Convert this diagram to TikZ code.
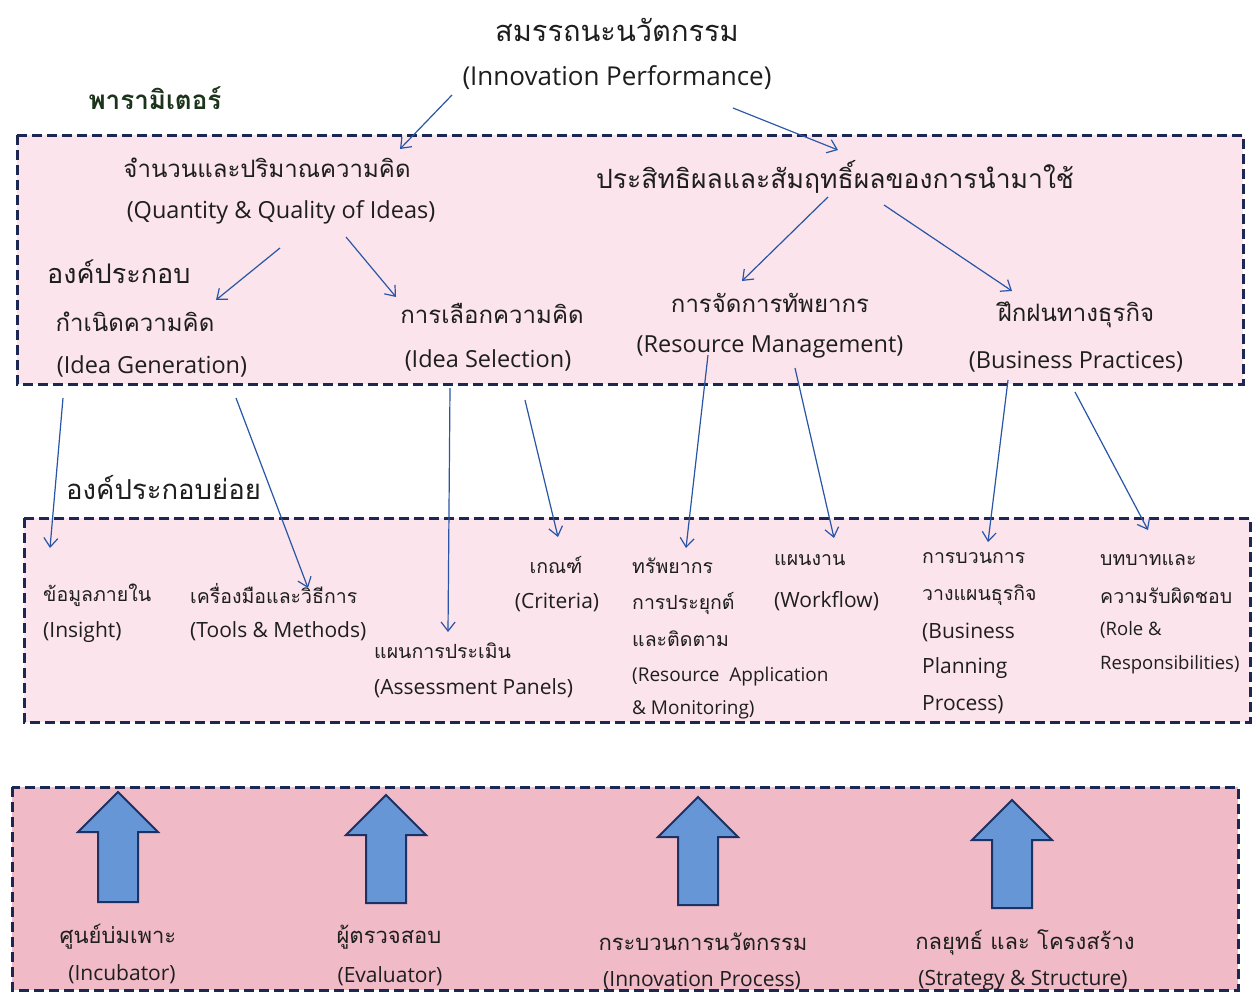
\documentclass[tikz,border=0pt]{standalone}
\usepackage{fontspec}
\setmainfont{Open Sans}
\newfontfamily\thaifont[Script=Thai]{Loma}
\usetikzlibrary{arrows.meta}
\definecolor{dashnavy}{RGB}{28,40,82}
\definecolor{lightpink}{RGB}{251,228,236}
\definecolor{deeppink}{RGB}{240,186,199}
\definecolor{linkblue}{RGB}{40,85,165}
\definecolor{blockfill}{RGB}{102,150,214}
\definecolor{blockedge}{RGB}{28,50,100}
\definecolor{headgreen}{RGB}{28,52,28}
\definecolor{ink}{RGB}{30,30,30}
\tikzset{
  panel/.style={draw=dashnavy, line width=3pt, dash pattern=on 10pt off 5pt},
  link/.style={draw=linkblue, line width=1.2pt, -{Straight Barb[length=9pt,width=14pt,line width=1.2pt]}},
  th/.style={inner sep=0pt, text=ink, font=\thaifont\fontsize{#1}{#1}\selectfont},
  en/.style={inner sep=0pt, text=ink, font=\fontsize{#1}{#1}\selectfont},
  uparrow/.style={fill=blockfill, draw=blockedge, line width=2pt, line join=miter}
}
\newcommand{\blockup}[3]{% centre x, tip y, bottom y
  \path[uparrow] (#1,#2) -- (#1+40,#2+40) -- (#1+20,#2+40) -- (#1+20,#3)
    -- (#1-20,#3) -- (#1-20,#2+40) -- (#1-40,#2+40) -- cycle;}
\begin{document}
\begin{tikzpicture}[x=1pt,y=-1pt]
\useasboundingbox[fill=white] (0,0) rectangle (1258,993);

% panels
\path[panel, fill=lightpink] (17,135) rectangle (1243,384);
\path[panel, fill=lightpink] (24,518) rectangle (1250,722);
\path[panel, fill=deeppink] (12,787) rectangle (1238,990);

% overall goal
\node[th=29] (t1) at (617,30) {สมรรถนะนวัตกรรม};
\node[en=26] (t2) at (617,78) {(Innovation Performance)};

% parameters
\node[th=26, text=headgreen, font=\thaifont\bfseries\fontsize{26}{26}\selectfont] (pl) at (155,98) {พารามิเตอร์};
\node[th=24] (q1) at (267,168) {จำนวนและปริมาณความคิด};
\node[en=23.5] (q2) at (281,212) {(Quantity \& Quality of Ideas)};
\node[th=26.5] (e1) at (835,177) {ประสิทธิผลและสัมฤทธิ์ผลของการนำมาใช้};

% components
\node[th=27, anchor=west] (comp) at (47,272) {องค์ประกอบ};
\node[th=24] (g1) at (135,322) {กำเนิดความคิด};
\node[en=23.5] (g2) at (152,366) {(Idea Generation)};
\node[th=24] (s1) at (492,313) {การเลือกความคิด};
\node[en=23.5] (s2) at (488,360) {(Idea Selection)};
\node[th=24] (r1) at (770,303) {การจัดการทัพยากร};
\node[en=23.5] (r2) at (770,347) {(Resource Management)};
\node[th=24] (b1) at (1076,315) {ฝึกฝนทางธุรกิจ};
\node[en=23.5] (b2) at (1076,362) {(Business Practices)};

% sub-components
\node[th=27.5, anchor=west] (sub) at (66,488) {องค์ประกอบย่อย};
\node[th=19.5, anchor=west] (i1) at (43,595) {ข้อมูลภายใน};
\node[en=21, anchor=west] (i2) at (43,632) {(Insight)};
\node[th=19.5, anchor=west] (tm1) at (190,594) {เครื่องมือและวิธีการ};
\node[en=21, anchor=west] (tm2) at (190,631) {(Tools \& Methods)};
\node[th=19.5, anchor=west] (ap1) at (374,651) {แผนการประเมิน};
\node[en=21, anchor=west] (ap2) at (374,688) {(Assessment Panels)};
\node[th=19.5] (cr1) at (556,565) {เกณฑ์};
\node[en=21] (cr2) at (557,602) {(Criteria)};
\node[th=19.5, anchor=west] (ra1) at (632,566) {ทรัพยากร};
\node[th=19.5, anchor=west] (ra2) at (632,603) {การประยุกต์};
\node[th=19.5, anchor=west] (ra3) at (632,639) {และติดตาม};
\node[en=19, anchor=west] (ra4) at (632,677) {(Resource\ \ Application};
\node[en=19, anchor=west] (ra5) at (632,710) {\& Monitoring)};
\node[th=19.5, anchor=west] (wf1) at (774,560) {แผนงาน};
\node[en=21, anchor=west] (wf2) at (774,601) {(Workflow)};
\node[th=19.5, anchor=west] (bp1) at (922,558) {การบวนการ};
\node[th=19.5, anchor=west] (bp2) at (922,595) {วางแผนธุรกิจ};
\node[en=21, anchor=west] (bp3) at (922,632) {(Business};
\node[en=21, anchor=west] (bp4) at (922,668) {Planning};
\node[en=21, anchor=west] (bp5) at (922,705) {Process)};
\node[th=19.5, anchor=west] (rr1) at (1100,560) {บทบาทและ};
\node[th=19.5, anchor=west] (rr2) at (1100,596) {ความรับผิดชอบ};
\node[en=18.5, anchor=west] (rr3) at (1100,630) {(Role \&};
\node[en=18.5, anchor=west] (rr4) at (1100,665) {Responsibilities)};

% enablers
\blockup{118}{792}{902}
\blockup{386}{795}{903}
\blockup{698}{797}{905}
\blockup{1012}{800}{908}
\node[th=22] (n1) at (118,937) {ศูนย์บ่มเพาะ};
\node[en=21] (n2) at (122,974) {(Incubator)};
\node[th=22] (v1) at (389,937) {ผู้ตรวจสอบ};
\node[en=21] (v2) at (390,976) {(Evaluator)};
\node[th=22] (p1) at (703,942) {กระบวนการนวัตกรรม};
\node[en=21] (p2) at (702,980) {(Innovation Process)};
\node[th=22] (k1) at (1025,942) {กลยุทธ์ และ โครงสร้าง};
\node[en=21] (k2) at (1023,980) {(Strategy \& Structure)};

% links: goal -> parameters
\draw[link] ([shift={(-165,17)}]t2.center) -- ([shift={(133,-19)}]q1.center);
\draw[link] ([shift={(116,30)}]t2.center) -- ([shift={(3,-27)}]e1.center);
% parameters -> components
\draw[link] ([shift={(-1,36)}]q2.center) -- ([shift={(81,-22)}]g1.center);
\draw[link] ([shift={(65,25)}]q2.center) -- ([shift={(-96,-16)}]s1.center);
\draw[link] ([shift={(-7,20)}]e1.center) -- ([shift={(-28,-22)}]r1.center);
\draw[link] ([shift={(49,28)}]e1.center) -- ([shift={(-64,-24)}]b1.center);
% components -> sub-components
\draw[link] ([shift={(-89,32)}]g2.center) -- ([shift={(7,-47)}]i1.west);
\draw[link] ([shift={(84,32)}]g2.center) -- ([shift={(118,-6)}]tm1.west);
\draw[link] ([shift={(-38,28)}]s2.center) -- ([shift={(74,-19)}]ap1.west);
\draw[link] ([shift={(37,40)}]s2.center) -- ([shift={(2,-28)}]cr1.center);
\draw[link] ([shift={(-62,8)}]r2.center) -- ([shift={(54,-18)}]ra1.west);
\draw[link] ([shift={(25,21)}]r2.center) -- ([shift={(60,-22)}]wf1.west);
\draw[link] ([shift={(-68,18)}]b2.center) -- ([shift={(66,-16)}]bp1.west);
\draw[link] ([shift={(-1,30)}]b2.center) -- ([shift={(48,-30)}]rr1.west);
\end{tikzpicture}
\end{document}
